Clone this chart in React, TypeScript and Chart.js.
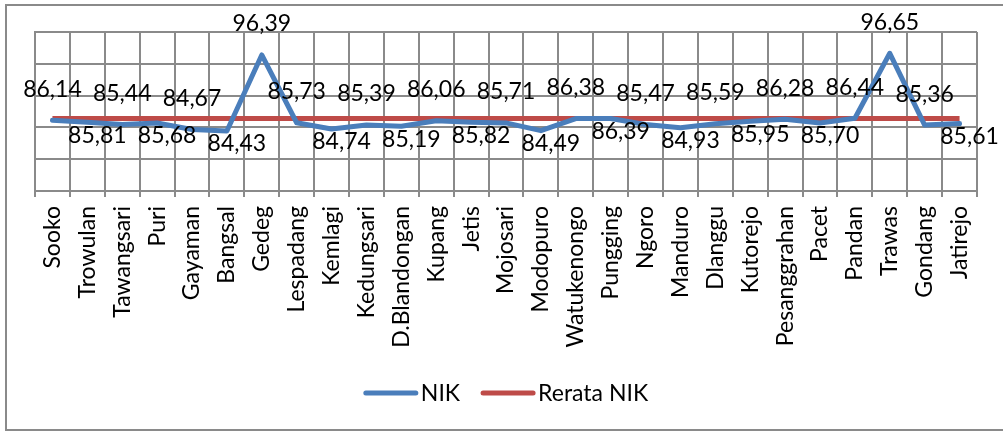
import React, { useEffect, useRef } from "react";
import { Chart, registerables } from "chart.js";

Chart.register(...registerables);

const categories = [
  "Sooko", "Trowulan", "Tawangsari", "Puri", "Gayaman", "Bangsal", "Gedeg",
  "Lespadang", "Kemlagi", "Kedungsari", "D.Blandongan", "Kupang", "Jetis",
  "Mojosari", "Modopuro", "Watukenongo", "Pungging", "Ngoro", "Manduro",
  "Dlanggu", "Kutorejo", "Pesanggrahan", "Pacet", "Pandan", "Trawas",
  "Gondang", "Jatirejo",
];

const nikValues = [
  86.14, 85.81, 85.44, 85.68, 84.67, 84.43, 96.39,
  85.73, 84.74, 85.39, 85.19, 86.06, 85.82,
  85.71, 84.49, 86.38, 86.39, 85.47, 84.93,
  85.59, 85.95, 86.28, 85.70, 86.44, 96.65,
  85.36, 85.61,
];

const rerataValues = [
  86.39, 86.39, 86.39, 86.39, 86.39, 86.39, 86.39,
  86.39, 86.39, 86.39, 86.39, 86.39, 86.39,
  86.39, 86.39, 86.39, 86.39, 86.39, 86.39,
  86.39, 86.39, 86.39, 86.39, 86.39, 86.39,
  86.39, 86.39,
];

// side on which each NIK data label sits
const labelSide = [
  "above", "below", "above", "below", "above", "below", "above",
  "above", "below", "above", "below", "above", "below",
  "above", "below", "above", "below", "above", "below",
  "above", "below", "above", "below", "above", "above",
  "above", "below",
];

const yMin = 75;
const yMax = 100;
const yStep = 5;

const seriesNames = ["NIK", "Rerata NIK"];
const BLUE = "#4A7EBB";
const RED = "#BE4B48";
const GRID = "#8A8A8A";
const FONT = "Lato, 'Open Sans', sans-serif";

const fmt = (v: number) => v.toFixed(2).replace(".", ",");

const dataLabelPlugin = {
  id: "nikLabels",
  afterDatasetsDraw(chart: any) {
    const meta = chart.getDatasetMeta(0);
    const ctx = chart.ctx;
    ctx.save();
    ctx.font = `23px ${FONT}`;
    ctx.fillStyle = "#000";
    ctx.textAlign = "center";
    ctx.textBaseline = "middle";
    meta.data.forEach((pt: any, i: number) => {
      const below = labelSide[i] === "below";
      const x = pt.x + (below ? 10 : 0);
      const y = pt.y + (below ? 13 : -31);
      ctx.fillText(fmt(nikValues[i]), x, y);
    });
    ctx.restore();
  },
};

const legendPlugin = {
  id: "customLegend",
  afterDraw(chart: any) {
    const ctx = chart.ctx;
    const colors = [BLUE, RED];
    ctx.save();
    ctx.font = `23px ${FONT}`;
    const sample = 54;
    const gapText = 3;
    const gapItem = 21;
    const widths = seriesNames.map((n) => ctx.measureText(n).width);
    const total =
      widths.reduce((a: number, b: number) => a + b, 0) +
      seriesNames.length * (sample + gapText) +
      gapItem * (seriesNames.length - 1);
    let x = 506 - total / 2;
    const y = 393;
    seriesNames.forEach((n, i) => {
      ctx.strokeStyle = colors[i];
      ctx.lineWidth = 5;
      ctx.lineCap = "round";
      ctx.beginPath();
      ctx.moveTo(x + 2, y);
      ctx.lineTo(x + sample - 2, y);
      ctx.stroke();
      x += sample + gapText;
      ctx.fillStyle = "#000";
      ctx.textAlign = "left";
      ctx.textBaseline = "middle";
      ctx.fillText(n, x, y + 1);
      x += widths[i] + gapItem;
    });
    ctx.restore();
  },
};

export default function App() {
  const canvasRef = useRef<HTMLCanvasElement | null>(null);

  useEffect(() => {
    if (!canvasRef.current) return;
    const chart = new Chart(canvasRef.current, {
      type: "line",
      data: {
        labels: categories,
        datasets: [
          {
            label: seriesNames[0],
            data: nikValues,
            borderColor: BLUE,
            backgroundColor: BLUE,
            borderWidth: 5,
            pointRadius: 0,
            tension: 0,
            borderJoinStyle: "round",
            borderCapStyle: "round",
          },
          {
            label: seriesNames[1],
            data: rerataValues,
            borderColor: RED,
            backgroundColor: RED,
            borderWidth: 5,
            pointRadius: 0,
            tension: 0,
            borderCapStyle: "butt",
          },
        ],
      },
      options: {
        animation: false,
        responsive: false,
        maintainAspectRatio: false,
        events: [],
        layout: { padding: { left: 35, right: 26, top: 32, bottom: 0 } },
        plugins: {
          legend: { display: false },
          tooltip: { enabled: false },
          title: { display: false },
        },
        scales: {
          x: {
            type: "category",
            offset: true,
            grid: {
              offset: true,
              color: GRID,
              lineWidth: 2,
              tickLength: 6,
              drawTicks: true,
            },
            border: { display: true, color: GRID, width: 2 },
            ticks: {
              autoSkip: false,
              minRotation: 90,
              maxRotation: 90,
              padding: 9,
              color: "#000",
              font: { family: FONT, size: 23 },
            },
            afterFit: (s: any) => {
              s.height = 240;
            },
          },
          y: {
            min: yMin,
            max: yMax,
            ticks: { stepSize: yStep, display: false },
            grid: { color: GRID, lineWidth: 2, drawTicks: false },
            border: { display: true, color: GRID, width: 2 },
            afterFit: (s: any) => {
              s.width = 0;
            },
          },
        },
      },
      plugins: [dataLabelPlugin, legendPlugin],
    });
    return () => chart.destroy();
  }, []);

  return (
    <div
      style={{
        position: "fixed",
        left: 0,
        top: 0,
        width: 1003,
        height: 431,
        background: "#fff",
        overflow: "hidden",
      }}
    >
      <div
        style={{
          position: "absolute",
          left: 5,
          top: 4,
          width: 1100,
          height: 427,
          boxSizing: "border-box",
          border: `2px solid ${GRID}`,
        }}
      />
      <canvas
        ref={canvasRef}
        width={1003}
        height={431}
        style={{ position: "absolute", left: 0, top: 0, width: 1003, height: 431 }}
      />
    </div>
  );
}
